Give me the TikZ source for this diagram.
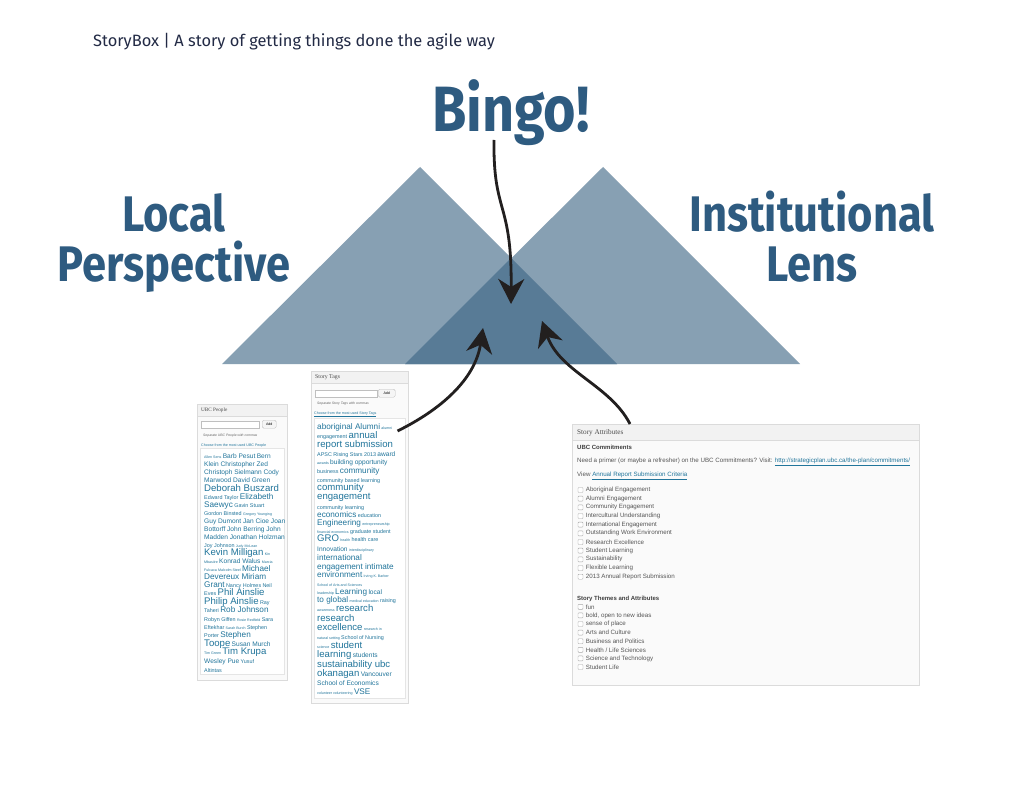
\documentclass[tikz,border=0pt]{standalone}
\usepackage{fontspec}
\setmainfont{Fira Sans}
\newfontfamily\shotfont{Liberation Sans}
\newfontfamily\shotserif{Liberation Serif}
\usepackage{graphicx}
\usetikzlibrary{arrows.meta}
\definecolor{slate}{HTML}{2E5B80}
\definecolor{ridge}{HTML}{87A0B3}
\definecolor{ridgedark}{HTML}{587B96}
\definecolor{navy}{HTML}{222A45}
\definecolor{ink}{HTML}{221F1F}
\definecolor{wplink}{HTML}{21759B}
\definecolor{wptext}{HTML}{555555}
% narrower headline letters
\newcommand{\slim}[1]{\scalebox{0.87}[1]{#1}}
% tag cloud sizes
\newcommand{\tgA}[1]{{\fontsize{3.6pt}{4pt}\selectfont #1}}
\newcommand{\tgB}[1]{{\fontsize{5.4pt}{6pt}\selectfont #1}}
\newcommand{\tgC}[1]{{\fontsize{6.6pt}{7pt}\selectfont #1}}
\newcommand{\tgD}[1]{{\fontsize{8.2pt}{9pt}\selectfont #1}}
\newcommand{\tgE}[1]{{\fontsize{9.6pt}{10pt}\selectfont #1}}

\begin{document}
\begin{tikzpicture}[x=1pt, y=-1pt,
  bigword/.style={font=\fontsize{50pt}{50pt}\selectfont\bfseries, text=slate, inner sep=0pt, anchor=base},
  panel/.style={draw=black!14, fill=black!2, line width=0.5pt, inner sep=0pt, anchor=north west},
  bar/.style={draw=black!14, fill=black!5, line width=0.5pt, inner sep=0pt, anchor=north west},
  field/.style={draw=black!25, fill=white, line width=0.4pt, inner sep=0pt, anchor=north west},
  button/.style={draw=black!25, fill=black!4, line width=0.4pt, rounded corners=1.5pt, inner sep=0pt, anchor=north west, font=\shotfont\fontsize{3.6pt}{4pt}\selectfont},
  shot/.style={font=\shotfont\fontsize{5pt}{6pt}\selectfont, inner sep=0pt, anchor=base west},
  tagline/.style={shot, text=wplink},
  hint/.style={shot, font=\shotfont\itshape\fontsize{3.4pt}{4pt}\selectfont, text=black!60},
  choose/.style={shot, font=\shotfont\fontsize{3.6pt}{4pt}\selectfont, text=wplink},
  boxtitle/.style={inner sep=0pt, anchor=west, text=black!70},
  attr/.style={shot, font=\shotfont\fontsize{6.2pt}{7pt}\selectfont, text=wptext, anchor=west},
  chk/.style={draw=black!35, fill=white, line width=0.4pt, minimum size=5pt, inner sep=0pt, rounded corners=0.8pt},
  arrowline/.style={draw=ink, line width=2.8pt, -{Stealth[length=25pt, width=26pt, inset=8pt]}}
]
  \useasboundingbox (0,0) rectangle (1024,791);
  \fill[white] (0,0) rectangle (1024,791);
  % Title line
  \node[font=\fontsize{16.4pt}{16pt}\selectfont, text=navy, inner sep=0pt, anchor=base west] (title) at (93,47)
    {StoryBox | A story of getting things done the agile way};
  % Two overlapping views
  \fill[ridge] (222,364) -- (420,167) -- (617,364) -- cycle;
  \fill[ridge] (405,364) -- (603,167) -- (800,364) -- cycle;
  \fill[ridgedark] (405,364) -- (511,258) -- (617,364) -- cycle;
  % Labels
  \node[bigword, font=\fontsize{64pt}{64pt}\selectfont\bfseries] (bingo) at (511,132) {\slim{Bingo!}};
  \node[bigword] (local) at (174,232) {\slim{Local}};
  \node[bigword] (persp) at (174,282) {\slim{Perspective}};
  \node[bigword] (inst) at (812,232) {\slim{Institutional}};
  \node[bigword] (lens) at (812,282) {\slim{Lens}};

  % UBC People box
  \node[panel, minimum width=90pt, minimum height=276pt] (people) at (197,404) {};
  \node[bar, minimum width=90pt, minimum height=12pt] (peoplebar) at (197,404) {};
  \node[boxtitle, font=\shotserif\fontsize{5.2pt}{6pt}\selectfont] (peoplehead) at (201,410) {UBC People};
  \node[field, minimum width=58pt, minimum height=7pt] (peoplefield) at (201,421) {};
  \node[button, minimum width=14pt, minimum height=8pt] (peopleadd) at (262,420) {Add};
  \node[hint] (peoplehint) at (203,436) {Separate UBC People with commas};
  \node[choose] (peoplechoose) at (201,446) {\underline{Choose from the most used UBC People}};
  \node[field, draw=black!10, minimum width=84pt, minimum height=226pt] (peoplecloud) at (200,448) {};
  \foreach \yb/\words [count=\i] in {
    458/{\tgA{Allen Sens} \tgC{Barb Pesut} \tgC{Bern}},
    466/{\tgC{Klein Christopher Zed}},
    474/{\tgC{Christoph Sielmann Cody}},
    482/{\tgC{Marwood David Green}},
    491/{\tgE{Deborah Buszard}},
    499/{\tgB{Edward Taylor} \tgD{Elizabeth}},
    507/{\tgD{Saewyc} \tgB{Gavin Stuart}},
    515/{\tgB{Gordon Binsted} \tgA{Gregory Younging}},
    523/{\tgC{Guy Dumont Jan Cioe Joan}},
    531/{\tgC{Bottorff John Berring John}},
    539/{\tgC{Madden Jonathan Holzman}},
    547/{\tgB{Joy Johnson} \tgA{Judy McLean}},
    555/{\tgE{Kevin Milligan} \tgA{Kin}},
    563/{\tgA{Mbasiire} \tgC{Konrad Walus} \tgA{Marcia}},
    571/{\tgA{Fulcaca} \tgA{Malcolm Steel} \tgD{Michael}},
    579/{\tgD{Devereux Miriam}},
    587/{\tgD{Grant} \tgB{Nancy Holmes} \tgB{Neil}},
    595/{\tgB{Eves} \tgE{Phil Ainslie}},
    604/{\tgE{Philip Ainslie} \tgB{Ray}},
    612/{\tgB{Taheri} \tgD{Rob Johnson}},
    621/{\tgB{Robyn Giffen} \tgA{Rosie Redfield} \tgB{Sara}},
    629/{\tgB{Eftekhar} \tgA{Sarah Burch} \tgB{Stephen}},
    637/{\tgB{Porter} \tgD{Stephen}},
    646/{\tgE{Toope} \tgC{Susan Murch}},
    654/{\tgA{Tim Green} \tgE{Tim Krupa}},
    663/{\tgC{Wesley Pue} \tgB{Yusuf}},
    672/{\tgB{Altintas}}}
    \node[tagline] (ppl\i) at (204,\yb) {\words};

  % Story Tags box
  \node[panel, minimum width=97pt, minimum height=332pt] (tags) at (311,371) {};
  \node[bar, minimum width=97pt, minimum height=12pt] (tagsbar) at (311,371) {};
  \node[boxtitle, font=\shotserif\fontsize{5.8pt}{7pt}\selectfont] (tagshead) at (315,377) {Story Tags};
  \node[field, minimum width=62pt, minimum height=7pt] (tagsfield) at (315,389.5) {};
  \node[button, minimum width=17pt, minimum height=8pt] (tagsadd) at (378,389) {Add};
  \node[hint] (tagshint) at (317,404) {Separate Story Tags with commas};
  \node[choose] (tagschoose) at (314,414.5) {\underline{Choose from the most used Story Tags}};
  \node[field, draw=black!10, minimum width=91pt, minimum height=280pt] (tagscloud) at (314,418) {};
  \foreach \yb/\words [count=\i] in {
    429/{\tgD{aboriginal Alumni} \tgA{alumni}},
    438/{\tgB{engagement} \tgE{annual}},
    447/{\tgE{report submission}},
    456/{\tgB{APSC Rising Stars 2013} \tgC{award}},
    464/{\tgA{awards} \tgC{building opportunity}},
    473/{\tgB{business} \tgD{community}},
    482/{\tgB{community based learning}},
    490/{\tgE{community}},
    499/{\tgE{engagement}},
    509/{\tgB{community learning}},
    517/{\tgD{economics} \tgB{education}},
    525/{\tgD{Engineering} \tgA{entrepreneurship}},
    533/{\tgA{financial economics} \tgB{graduate student}},
    541/{\tgE{GRO} \tgA{health} \tgB{health care}},
    551/{\tgC{Innovation} \tgA{interdisciplinary}},
    560/{\tgD{international}},
    569/{\tgD{engagement intimate}},
    577/{\tgD{environment} \tgA{Irving K. Barber}},
    586/{\tgA{School of Arts and Sciences}},
    594/{\tgA{leadership} \tgD{Learning} \tgC{local}},
    602/{\tgD{to global} \tgA{medical education} \tgB{raising}},
    611/{\tgA{awareness} \tgE{research}},
    621/{\tgE{research}},
    630/{\tgE{excellence} \tgA{research in}},
    639/{\tgA{natural setting} \tgB{School of Nursing}},
    648/{\tgA{science} \tgE{student}},
    657/{\tgE{learning} \tgC{students}},
    667/{\tgE{sustainability ubc}},
    676/{\tgE{okanagan} \tgC{Vancouver}},
    685/{\tgC{School of Economics}},
    694/{\tgA{volunteer volunteering} \tgD{VSE}}}
    \node[tagline] (tag\i) at (317,\yb) {\words};

  % Story Attributes box
  \node[panel, minimum width=347pt, minimum height=261pt] (attrs) at (572,424) {};
  \node[bar, minimum width=347pt, minimum height=16pt] (attrsbar) at (572,424) {};
  \node[boxtitle, font=\shotserif\fontsize{7.2pt}{8pt}\selectfont] (attrshead) at (577,432.5) {Story Attributes};
  \node[attr, font=\shotfont\bfseries\fontsize{6pt}{7pt}\selectfont, text=black!75] (ubchead) at (577,447.5) {UBC Commitments};
  \node[attr] (primer) at (577,462) {Need a primer (or maybe a refresher) on the UBC Commitments? Visit: \textcolor{wplink}{\underline{http://strategicplan.ubc.ca/the-plan/commitments/}}};
  \node[attr] (criteria) at (577,476) {View \textcolor{wplink}{\underline{Annual Report Submission Criteria}}};
  \foreach \words [count=\i] in {Aboriginal Engagement, Alumni Engagement, Community Engagement,
      Intercultural Understanding, International Engagement, Outstanding Work Environment,
      Research Excellence, Student Learning, Sustainability, Flexible Learning,
      2013 Annual Report Submission} {
    \node[chk] (cmt\i) at (580.5,{490+(\i-1)*8.67}) {};
    \node[attr] (cmtname\i) at ([xshift=2.5pt]cmt\i.east) {\words};
  }
  \node[attr, font=\shotfont\bfseries\fontsize{6pt}{7pt}\selectfont, text=black!75] (themehead) at (577,598.5) {Story Themes and Attributes};
  \foreach \words [count=\i] in {fun, {bold, open to new ideas}, sense of place, Arts and Culture,
      Business and Politics, Health / Life Sciences, Science and Technology, Student Life} {
    \node[chk] (thm\i) at (580.5,{606.8+(\i-1)*8.6}) {};
    \node[attr] (thmname\i) at ([xshift=2.5pt]thm\i.east) {\words};
  }

  % Arrow ends
  \coordinate (bingotail) at ([xshift=-17pt,yshift=-8pt]bingo.base);
  \coordinate (hitA) at (511,304);
  \coordinate (hitB) at (483,328);
  \coordinate (hitC) at (542,321);
  \coordinate (tagtail) at ([xshift=-11pt,yshift=-60pt]tags.north east);
  \coordinate (attrtail) at ([xshift=58pt]attrs.north west);
  % Arrows into the overlap
  \draw[arrowline] (bingotail) .. controls (493,215) and (512,200) .. (hitA);
  \draw[arrowline] (tagtail) .. controls (440,410) and (475,380) .. (hitB);
  \draw[arrowline] (attrtail) .. controls (610,385) and (560,372) .. (hitC);
\end{tikzpicture}
\end{document}
